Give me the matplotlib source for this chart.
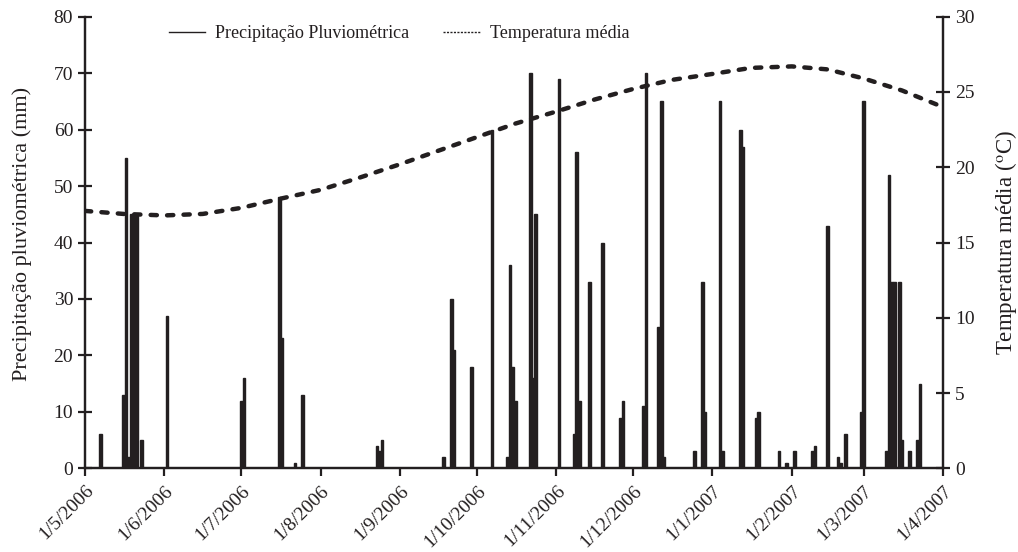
import matplotlib
matplotlib.use('Agg')
import matplotlib.pyplot as plt
import matplotlib.dates as mdates
from matplotlib.lines import Line2D
from matplotlib.ticker import FuncFormatter
import pandas as pd

# chuva diaria (mm), so os dias com chuva
rain_dates = ['2006-05-07', '2006-05-16', '2006-05-17', '2006-05-18', '2006-05-19',
              '2006-05-20', '2006-05-21', '2006-05-23', '2006-06-02', '2006-07-01',
              '2006-07-02', '2006-07-16', '2006-07-17', '2006-07-22', '2006-07-25',
              '2006-08-23', '2006-08-24', '2006-08-25', '2006-09-18', '2006-09-21',
              '2006-09-22', '2006-09-29', '2006-10-07', '2006-10-13', '2006-10-14',
              '2006-10-15', '2006-10-16', '2006-10-22', '2006-10-23', '2006-10-24',
              '2006-11-02', '2006-11-08', '2006-11-09', '2006-11-10', '2006-11-14',
              '2006-11-19', '2006-11-26', '2006-11-27', '2006-12-05', '2006-12-06',
              '2006-12-11', '2006-12-12', '2006-12-13', '2006-12-25', '2006-12-28',
              '2006-12-29', '2007-01-04', '2007-01-05', '2007-01-12', '2007-01-13',
              '2007-01-18', '2007-01-19', '2007-01-27', '2007-01-30', '2007-02-02',
              '2007-02-09', '2007-02-10', '2007-02-15', '2007-02-19', '2007-02-20',
              '2007-02-22', '2007-02-28', '2007-03-01', '2007-03-10', '2007-03-11',
              '2007-03-12', '2007-03-13', '2007-03-15', '2007-03-16', '2007-03-19',
              '2007-03-22', '2007-03-23']
rain_mm = [6, 13, 55, 2, 45,
           45, 45, 5, 27, 12,
           16, 48, 23, 1, 13,
           4, 3, 5, 2, 30,
           21, 18, 60, 2, 36,
           18, 12, 70, 16, 45,
           69, 6, 56, 12, 33,
           40, 9, 12, 11, 70,
           25, 65, 2, 3, 33,
           10, 65, 3, 60, 57,
           9, 10, 3, 1, 3,
           3, 4, 43, 2, 1,
           6, 10, 65, 3, 52,
           33, 33, 33, 5, 3,
           5, 15]

# temperatura media (lida a cada ~15 dias)
temp_dates = ['2006-05-01', '2006-05-16', '2006-06-01', '2006-06-16', '2006-07-01',
              '2006-07-16', '2006-08-01', '2006-08-16', '2006-09-01', '2006-09-16',
              '2006-10-01', '2006-10-16', '2006-11-01', '2006-11-16', '2006-12-01',
              '2006-12-16', '2007-01-01', '2007-01-16', '2007-02-01', '2007-02-15',
              '2007-03-01', '2007-03-16', '2007-04-01']
temp_c = [17.1, 16.9, 16.8, 16.9, 17.3,
          17.9, 18.5, 19.3, 20.2, 21.1,
          22.0, 22.9, 23.7, 24.5, 25.2,
          25.8, 26.2, 26.6, 26.7, 26.5,
          25.9, 25.1, 24.0]

plt.rcParams['font.family'] = ['Liberation Serif', 'DejaVu Serif']
plt.rcParams['mathtext.fontset'] = 'stix'
ink = '#231f20'

days = pd.date_range('2006-05-01', '2007-04-01', freq='D')
rain = pd.Series(0.0, index=days)
rain[pd.to_datetime(rain_dates)] = rain_mm

fig = plt.figure(figsize=(10.18, 5.52), dpi=100)
ax = fig.add_axes([0.0835, 0.1516, 0.8428, 0.8181])
ax2 = ax.twinx()

ax.bar(rain.index, rain.values, width=1.0, color=ink, edgecolor=ink, linewidth=1.0, zorder=3)
ax2.plot(pd.to_datetime(temp_dates), temp_c, color=ink, lw=3.2,
         dashes=(1.4, 2.3), dash_capstyle='round', zorder=2)

ax.set_xlim(pd.Timestamp('2006-05-01'), pd.Timestamp('2007-04-01'))
ax.set_ylim(0, 80)
ax2.set_ylim(0, 30)
ax.set_yticks(range(0, 81, 10))
ax2.set_yticks(range(0, 31, 5))

ax.xaxis.set_major_locator(mdates.MonthLocator())
ax.xaxis.set_major_formatter(FuncFormatter(
    lambda x, p: '{0}/{1}/{2}'.format(mdates.num2date(x).day, mdates.num2date(x).month,
                                      mdates.num2date(x).year)))
for lab in ax.get_xticklabels():
    lab.set_rotation(45)
    lab.set_ha('right')
    lab.set_va('top')
    lab.set_rotation_mode('anchor')

for a in (ax, ax2):
    a.spines['top'].set_visible(False)
    for s in a.spines.values():
        s.set_linewidth(1.6)
        s.set_color(ink)
ax.tick_params(axis='x', direction='out', length=6, width=1.6, labelsize=14, pad=4, colors=ink)
ax.tick_params(axis='y', direction='inout', length=10, width=1.6, labelsize=14, colors=ink)
ax2.tick_params(axis='y', direction='inout', length=10, width=1.6, labelsize=14, colors=ink)

ax.set_ylabel('Precipitação pluviométrica (mm)', fontsize=16, color=ink)
ax2.set_ylabel('Temperatura média ($^{\\mathrm{o}}$C)', fontsize=16.5, color=ink)
ax.yaxis.set_label_coords(-0.062, 0.52)
ax2.yaxis.set_label_coords(1.058, 0.5)

handles = [Line2D([], [], color=ink, lw=1.0),
           Line2D([], [], color=ink, lw=1.0, dashes=(1.5, 1.0))]
ax.legend(handles, ['Precipitação Pluviométrica', 'Temperatura média'], ncol=2,
          loc='center', bbox_to_anchor=(0.366, 0.962), frameon=False, fontsize=13,
          handlelength=2.0, handletextpad=0.55, columnspacing=1.9, labelcolor=ink)

fig.savefig('out.png', dpi=100)
